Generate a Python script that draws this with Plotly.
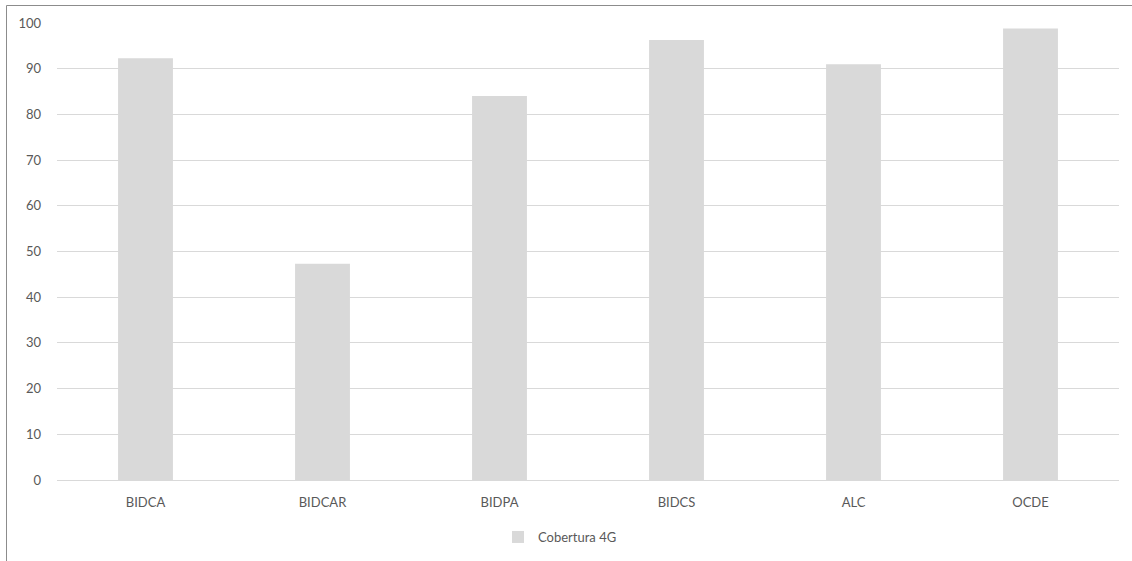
import plotly.graph_objects as go

categories = ["BIDCA", "BIDCAR", "BIDPA", "BIDCS", "ALC", "OCDE"]
coverage_4g = [92.3, 47.3, 84.0, 96.3, 91.0, 98.8]
series_name = "Cobertura 4G"
y_ticks = [0, 10, 20, 30, 40, 50, 60, 70, 80, 90, 100]

W, H = 1132, 561
L, R, T, B = 57, 13, 23, 81
plot_w = W - L - R
plot_h = H - T - B

def px_x(px):
    return (px - L) / plot_w

def px_y(py):
    return (H - B - py) / plot_h

fig = go.Figure()
fig.add_trace(go.Bar(
    x=categories,
    y=coverage_4g,
    name=series_name,
    marker=dict(color="#d9d9d9", line=dict(width=0)),
    showlegend=True,
))

font_family = "Lato, 'Open Sans', sans-serif"
text_color = "#595959"

fig.update_layout(
    width=W,
    height=H,
    margin=dict(l=L, r=R, t=T, b=B, autoexpand=False),
    paper_bgcolor="white",
    plot_bgcolor="white",
    bargap=0.69,
    font=dict(family=font_family, size=13, color=text_color),
    xaxis=dict(
        showgrid=False,
        showline=False,
        zeroline=False,
        ticks="",
        tickfont=dict(size=13, color=text_color),
        ticklabelstandoff=13,
    ),
    yaxis=dict(
        range=[0, 100],
        tickvals=y_ticks,
        showgrid=True,
        gridcolor="#d9d9d9",
        gridwidth=1,
        zeroline=True,
        zerolinecolor="#d9d9d9",
        zerolinewidth=1,
        showline=False,
        ticks="",
        tickfont=dict(size=13, color=text_color),
        ticklabelstandoff=15,
    ),
    legend=dict(
        orientation="h",
        x=px_x(560),
        xanchor="center",
        y=px_y(537),
        yanchor="middle",
        font=dict(size=13, color=text_color),
        itemwidth=30,
        bgcolor="rgba(0,0,0,0)",
    ),
    shapes=[
        dict(
            type="rect",
            xref="paper", yref="paper",
            x0=px_x(6.5), x1=px_x(1145),
            y0=px_y(575), y1=px_y(5.5),
            line=dict(color="#8c8c8c", width=1),
            fillcolor="rgba(0,0,0,0)",
            layer="below",
        )
    ],
)

fig.write_html("out.html")
